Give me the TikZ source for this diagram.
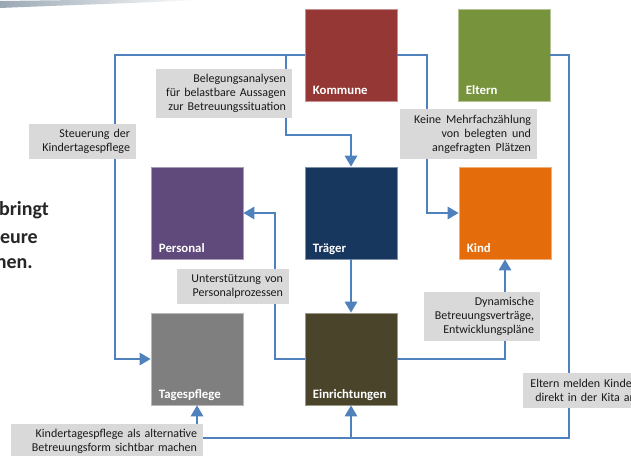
\documentclass[tikz,border=0pt]{standalone}
\usepackage{fontspec}
\setmainfont{Carlito}
\usetikzlibrary{arrows.meta,calc}
\definecolor{cKommune}{HTML}{953735}
\definecolor{cEltern}{HTML}{77933C}
\definecolor{cPersonal}{HTML}{604A7B}
\definecolor{cTraeger}{HTML}{17375E}
\definecolor{cKind}{HTML}{E46C0A}
\definecolor{cTages}{HTML}{7F7F7F}
\definecolor{cEinr}{HTML}{4A452A}
\definecolor{lblgray}{HTML}{D9D9D9}
\definecolor{lineblue}{HTML}{4F81BD}
\definecolor{swoosh}{HTML}{9AA8B4}
\begin{document}
\begin{tikzpicture}[x=1pt,y=-1pt,
  cbox/.style={fill=#1, draw=#1!55!white, line width=0.6pt, minimum width=92pt, minimum height=92pt, inner sep=0pt},
  blab/.style={font=\fontsize{12.8}{15}\selectfont\bfseries, text=white, anchor=base west, inner sep=0pt},
  lbl/.style={fill=lblgray, align=right, inner xsep=6pt, inner ysep=0pt, font=\fontsize{12}{14}\selectfont, text=black!90},
  conn/.style={draw=lineblue, line width=2.7pt},
  tipped/.style={-{Triangle[length=11pt,width=12pt]}},
  bigtxt/.style={anchor=base east, inner sep=0pt, font=\fontsize{20}{24}\selectfont\bfseries, text=black!85}
]
\useasboundingbox (0,0) rectangle (631,455);
\clip (0,0) rectangle (631,455);
\fill[white] (0,0) rectangle (631,455);

% decorative swoosh
\shade[left color=swoosh, right color=white] (0,1) .. controls (80,0) and (150,-1) .. (200,0) .. controls (140,3) and (70,5) .. (0,8) -- cycle;

% left text fragment
\node[bigtxt] (t1) at (49,215) {bringt};
\node[bigtxt] (t2) at (38,243) {eure};
\node[bigtxt] (t3) at (33,268) {hen.};

% coloured boxes
\node[cbox=cKommune] (kom) at (351,55) {};
\node[cbox=cEltern] (elt) at (504,55) {};
\node[cbox=cPersonal] (pers) at (197,213) {};
\node[cbox=cTraeger] (tr) at (351,213) {};
\node[cbox=cKind] (kind) at (505,213) {};
\node[cbox=cTages] (tag) at (197,359) {};
\node[cbox=cEinr] (ein) at (351,359) {};

\node[blab] (komL) at ($(kom.south west)+(8,-7)$) {Kommune};
\node[blab] (eltL) at ($(elt.south west)+(8,-7)$) {Eltern};
\node[blab] (persL) at ($(pers.south west)+(8,-7)$) {Personal};
\node[blab] (trL) at ($(tr.south west)+(8,-7)$) {Träger};
\node[blab] (kindL) at ($(kind.south west)+(8,-7)$) {Kind};
\node[blab] (tagL) at ($(tag.south west)+(8,-7)$) {Tagespflege};
\node[blab] (einL) at ($(ein.south west)+(8,-7)$) {Einrichtungen};

% helper coordinates
\coordinate (c1) at (115,200);
\coordinate (b1) at (286,55);
\coordinate (b2) at (286,135);
\coordinate (c3) at (427,150);
\coordinate (c4) at (569,250);
\coordinate (c5) at (197,438);
\coordinate (c6) at (351,438);
\coordinate (c7) at (275,300);

% connectors
\draw[conn,tipped] (kom.west) -| (c1) |- (tag.west);
\draw[conn,tipped] (b1) -- (b2) -| (tr.north);
\draw[conn,tipped] (kom.east) -| (c3) |- (kind.west);
\draw[conn,tipped] (elt.east) -| (c4) |- (c5) -- (tag.south);
\draw[conn,tipped] (c6) -- (ein.south);
\draw[conn,tipped] (tr.south) -- (ein.north);
\draw[conn,tipped] (ein.west) -| (c7) |- (pers.east);
\draw[conn,tipped] (ein.east) -| (kind.south);

% labels
\node[lbl, text width=124pt, minimum height=49pt] (l1) at (224,93.5) {Belegungsanalysen\\für belastbare Aussagen\\zur Betreuungssituation};
\node[lbl, text width=95pt, minimum height=35pt] (l2) at (82.5,141.5) {Steuerung der\\Kindertagespflege};
\node[lbl, text width=125pt, minimum height=50pt] (l3) at (468.5,134) {Keine\hspace{5pt}Mehrfachzählung\\von\hspace{5pt}belegten\hspace{5pt}und\\angefragten\hspace{5pt}Plätzen};
\node[lbl, text width=100pt, minimum height=35pt] (l4) at (233,286.5) {Unterstützung von\\Personalprozessen};
\node[lbl, text width=104pt, minimum height=49pt] (l5) at (482,316.5) {Dynamische\\Betreuungsverträge,\\Entwicklungspläne};
\node[lbl, text width=107pt, minimum height=35pt] (l6) at (582.5,390.5) {Eltern melden Kinder\\direkt in der Kita an};
\node[lbl, text width=180pt, minimum height=35pt] (l7) at (107,441.5) {Kindertagespflege als alternative\\Betreuungsform sichtbar machen};
\end{tikzpicture}
\end{document}
